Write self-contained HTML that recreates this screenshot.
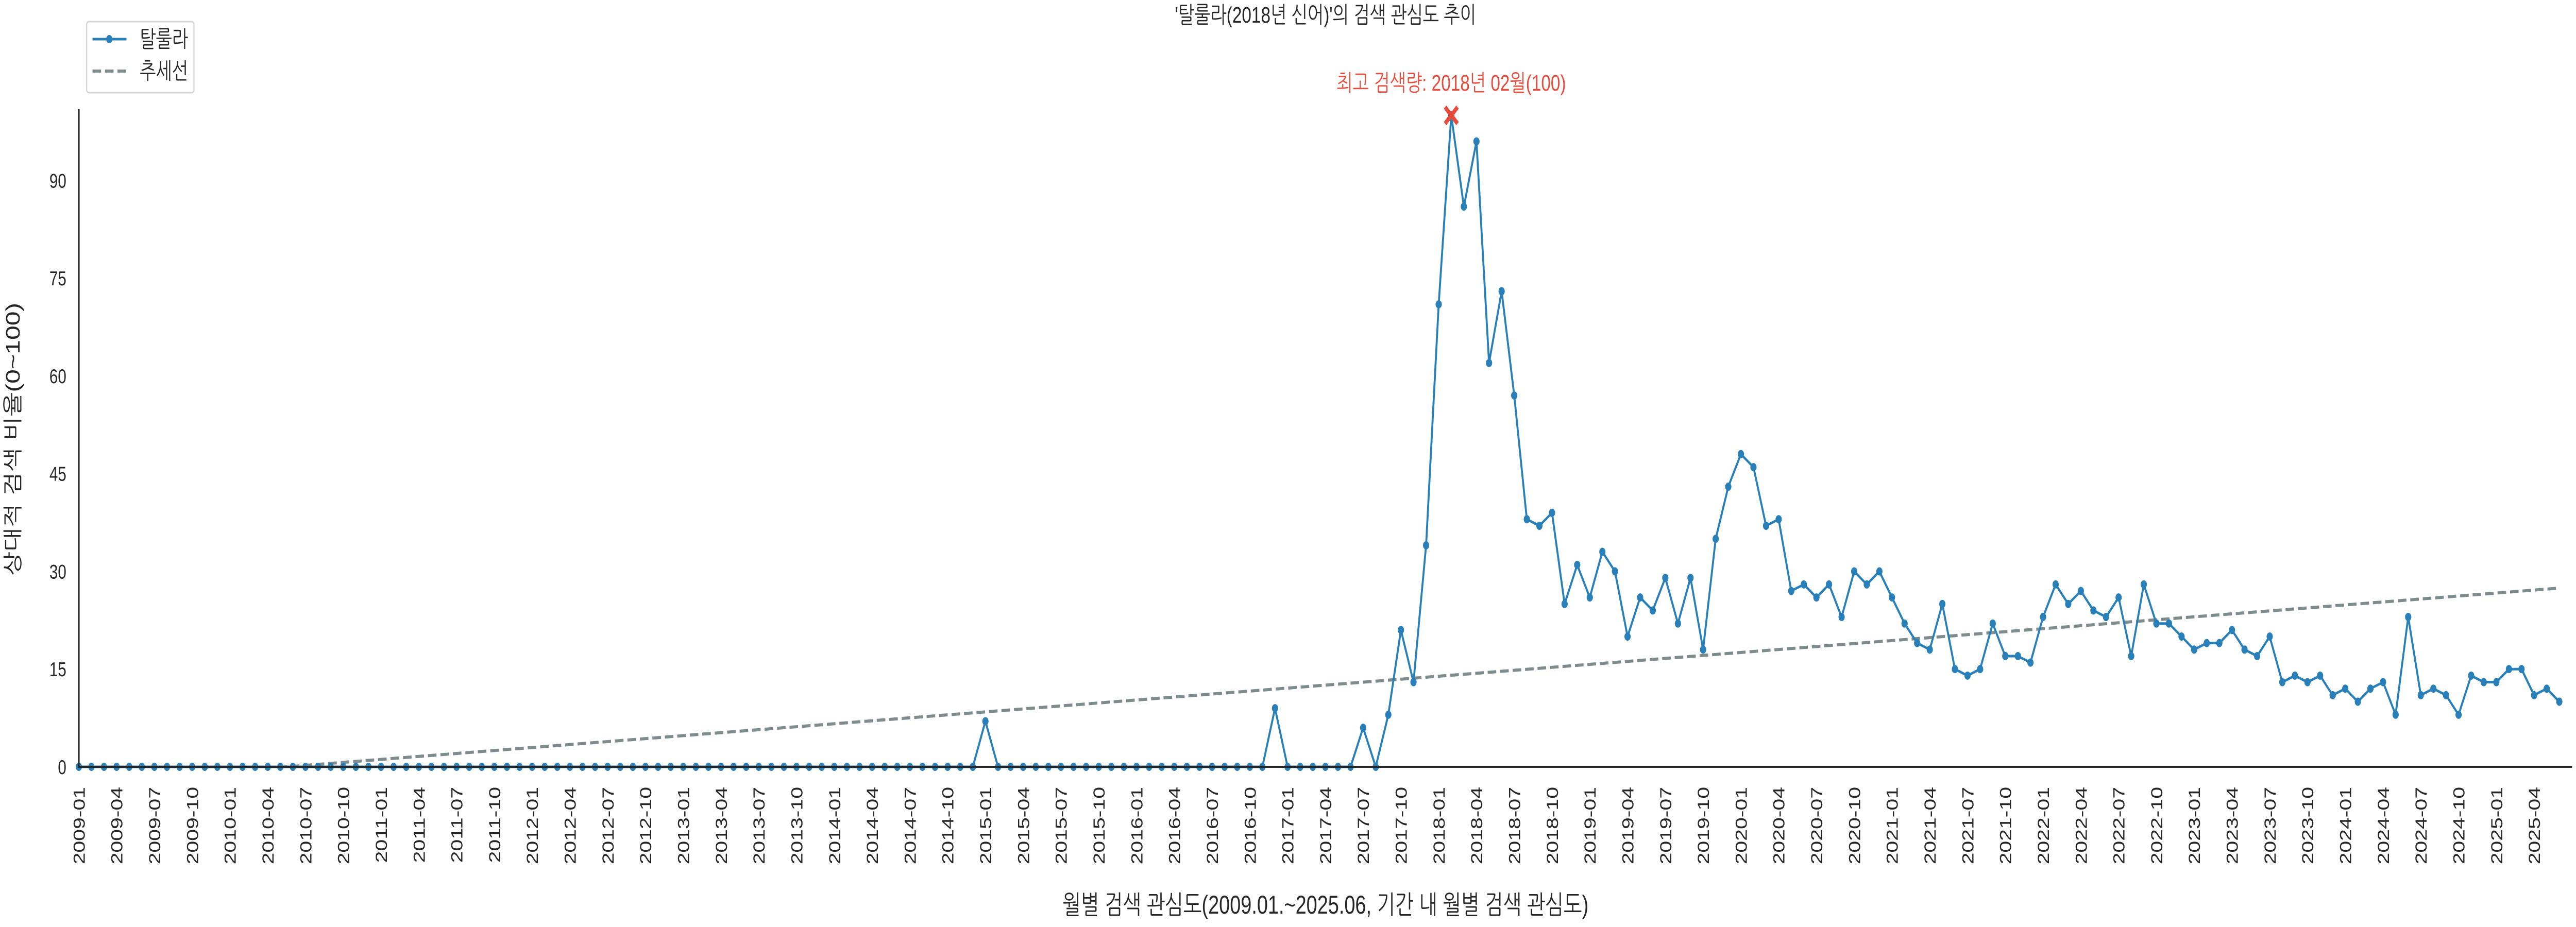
<!DOCTYPE html>
<html><head><meta charset="utf-8">
<style>
html,body{margin:0;padding:0;background:#fff;width:100vw;height:100vh;overflow:hidden;}
svg{display:block;width:100vw;height:100vh;font-family:"Liberation Sans","NanumGothic","Noto Sans CJK KR",sans-serif;}
</style></head>
<body>
<svg id="chart" viewBox="0 0 6600 1800" preserveAspectRatio="none" xmlns="http://www.w3.org/2000/svg">
  <rect width="6600" height="1800" fill="#fff"/>
  <defs><clipPath id="plotclip"><rect x="202" y="212" width="6390" height="1278"/></clipPath></defs>
  <text x="3396" y="44" font-size="44" text-anchor="middle" fill="#262626">'탈룰라(2018년 신어)'의 검색 관심도 추이</text>
  <g id="xticks"></g>
  <g id="yticks"></g>
  <g id="trend" clip-path="url(#plotclip)"></g>
  <g id="series"></g>
  <g id="peak"></g>
  <line x1="202" y1="212" x2="202" y2="1491" stroke="#262626" stroke-width="4"/>
  <line x1="200" y1="1489" x2="6590" y2="1489" stroke="#262626" stroke-width="4"/>
  <text x="3396" y="1774" font-size="50" text-anchor="middle" fill="#262626">월별 검색 관심도(2009.01.~2025.06, 기간 내 월별 검색 관심도)</text>
  <text x="0" y="0" font-size="50" text-anchor="middle" fill="#262626" transform="translate(50,853) rotate(-90)">상대적 검색 비율(0~100)</text>
  <g>
    <rect x="222" y="42" width="275" height="138" rx="6" fill="#fff" stroke="#d5d5d5" stroke-width="3"/>
    <g>
      <line x1="237" y1="76" x2="324" y2="76" stroke="#2980b9" stroke-width="5"/>
      <circle cx="280" cy="76" r="8" fill="#2980b9"/>
      <text x="358" y="91" font-size="44" fill="#262626">탈룰라</text>
    </g>
    <g>
      <line x1="237" y1="138" x2="324" y2="138" stroke="#7f8c8d" stroke-width="6" stroke-dasharray="22 10"/>
      <text x="358" y="153" font-size="44" fill="#262626">추세선</text>
    </g>
  </g>
</svg>
<script>
const values = [
0,0,0,0,0,0,0,0,0,0,0,0,
0,0,0,0,0,0,0,0,0,0,0,0,
0,0,0,0,0,0,0,0,0,0,0,0,
0,0,0,0,0,0,0,0,0,0,0,0,
0,0,0,0,0,0,0,0,0,0,0,0,
0,0,0,0,0,0,0,0,0,0,0,0,
7,0,0,0,0,0,0,0,0,0,0,0,
0,0,0,0,0,0,0,0,0,0,0,9,
0,0,0,0,0,0,6,0,8,21,13,34,
71,100,86,96,62,73,57,38,37,39,25,31,
26,33,30,20,26,24,29,22,29,18,35,43,
48,46,37,38,27,28,26,28,23,30,28,30,
26,22,19,18,25,15,14,15,22,17,17,16,
23,28,25,27,24,23,26,17,28,22,22,20,
18,19,19,21,18,17,20,13,14,13,14,11,
12,10,12,13,8,23,11,12,11,8,14,13,
13,15,15,11,12,10
];
const startYear = 2009;
const yTicks = [0,15,30,45,60,75,90];
const peakLabel = "최고 검색량: 2018년 02월(100)";

const NS = "http://www.w3.org/2000/svg";
const X0 = 202, DX = 32.26, Y0 = 1489, DY = 12.65;
function xs(i){ return X0 + i*DX; }
function ys(v){ return Y0 - v*DY; }
function mk(tag, attrs, parent){ const e=document.createElementNS(NS,tag); for(const k in attrs) e.setAttribute(k,attrs[k]); parent.appendChild(e); return e; }
function monthLabel(i){ const y=startYear+Math.floor(i/12), m=i%12+1; return y+"-"+(m<10?"0":"")+m; }

const yg = document.getElementById("yticks");
yTicks.forEach(v=>{
  const t = mk("text",{x:170,y:ys(v)+14,"font-size":39,"text-anchor":"end",fill:"#262626"},yg);
  
  
  t.textContent = v;
});
const xg = document.getElementById("xticks");
for(let i=0;i<values.length;i+=3){
  const t = mk("text",{x:0,y:0,"font-size":41,"text-anchor":"end",fill:"#262626",transform:"translate("+(xs(i)+15)+",1528) rotate(-90)"},xg);
  
  
  t.textContent = monthLabel(i);
}
const n = values.length;
let sx=0,sy=0,sxy=0,sxx=0;
values.forEach((v,i)=>{sx+=i;sy+=v;sxy+=i*v;sxx+=i*i;});
const slope=(n*sxy-sx*sy)/(n*sxx-sx*sx), icpt=(sy-slope*sx)/n;
const tl = mk("line",{x1:xs(0),y1:ys(icpt),x2:xs(n-1),y2:ys(icpt+slope*(n-1)),stroke:"#7f8c8d","stroke-width":6,"stroke-dasharray":"22 10"},document.getElementById("trend"));


const sg = document.getElementById("series");
const pl = mk("polyline",{points:values.map((v,i)=>xs(i)+","+ys(v)).join(" "),fill:"none",stroke:"#2980b9","stroke-width":5,"stroke-linejoin":"round"},sg);


values.forEach((v,i)=>{
  const c = mk("circle",{cx:xs(i),cy:ys(v),r:8,fill:"#2980b9"},sg);
  
  
});
let pi=0; values.forEach((v,i)=>{ if(v>values[pi]) pi=i; });
const pg = document.getElementById("peak");
const px=xs(pi), py=ys(values[pi]), s=16;
const m1 = mk("path",{d:`M${px-s},${py-s}L${px+s},${py+s}M${px+s},${py-s}L${px-s},${py+s}`,stroke:"#e74c3c","stroke-width":9,fill:"none"},pg);


const pt = mk("text",{x:px,y:py-48,"font-size":44,"text-anchor":"middle",fill:"#e74c3c"},pg);


pt.textContent = peakLabel;
</script>
</body></html>
